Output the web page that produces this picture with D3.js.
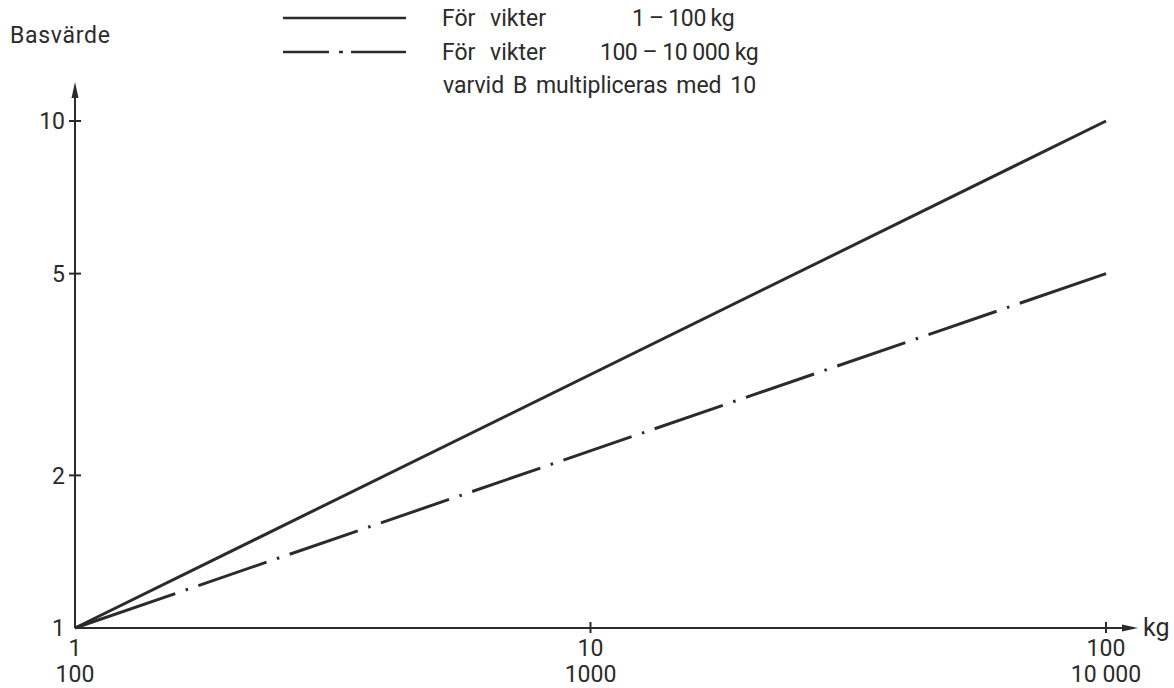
<!DOCTYPE html>
<html>
<head>
<meta charset="utf-8">
<script src="https://cdn.jsdelivr.net/npm/d3@7"></script>
<style>
  html, body { margin: 0; padding: 0; background: #fff; }
  svg text { font-family: Roboto, "DejaVu Sans", sans-serif; fill: #2b2b2b; }
</style>
</head>
<body>
<svg id="chart" width="1174" height="688"></svg>
<script>
// ---- data ----
const xDomain = [1, 100];
const yDomain = [1, 10];
const xTickValues = [10, 100];
const xLabelValues = [1, 10, 100];
const xLabelsTop = ["1", "10", "100"];
const xLabelsBottom = ["100", "1000", "10 000"];
const yTickValues = [2, 5, 10];
const yLabelValues = [1, 2, 5, 10];
const yLabels = ["1", "2", "5", "10"];
const seriesSolid = [{x: 1, y: 1}, {x: 100, y: 10}];
const seriesDashDot = [{x: 1, y: 1}, {x: 100, y: 5}];
const legendRow1 = ["För vikter", "1 – 100 kg"];
const legendRow2 = ["För vikter", "100 – 10 000 kg"];
const legendRow3 = "varvid B multipliceras med 10";
const yTitle = "Basvärde";
const xUnit = "kg";

// ---- layout ----
const svg = d3.select("#chart");
const x = d3.scaleLog().domain(xDomain).range([75, 1106]);
const y = d3.scaleLog().domain(yDomain).range([628, 121]);
const ink = "#2b2b2b";
const fs = 23;

// axes lines
const x0 = x(xDomain[0]), y0 = y(yDomain[0]);
svg.append("line").attr("x1", x0).attr("y1", y0).attr("x2", x0).attr("y2", 90)
  .attr("stroke", ink).attr("stroke-width", 2);
svg.append("line").attr("x1", x0).attr("y1", y0).attr("x2", 1128).attr("y2", y0)
  .attr("stroke", ink).attr("stroke-width", 2);
// arrowheads
svg.append("path").attr("d", `M${x0},82 L${x0-3.5},98 L${x0+3.5},98 Z`).attr("fill", ink);
svg.append("path").attr("d", `M1138,${y0} L1122,${y0-3.5} L1122,${y0+3.5} Z`).attr("fill", ink);

// y ticks
svg.selectAll(".ytick").data(yTickValues).enter().append("line")
  .attr("x1", x0 - 6).attr("x2", x0 + 6)
  .attr("y1", d => y(d)).attr("y2", d => y(d))
  .attr("stroke", ink).attr("stroke-width", 2);
svg.selectAll(".ylab").data(yLabelValues).enter().append("text")
  .attr("x", x0 - 10).attr("y", d => y(d)).attr("dy", "0.36em")
  .attr("text-anchor", "end").attr("font-size", fs)
  .text((d, i) => yLabels[i]);

// x ticks
svg.selectAll(".xtick").data(xTickValues).enter().append("line")
  .attr("x1", d => x(d)).attr("x2", d => x(d))
  .attr("y1", y0 - 6).attr("y2", y0 + 5)
  .attr("stroke", ink).attr("stroke-width", 2);
svg.selectAll(".xlab1").data(xLabelValues).enter().append("text")
  .attr("x", d => x(d)).attr("y", 656)
  .attr("text-anchor", "middle").attr("font-size", fs)
  .text((d, i) => xLabelsTop[i]);
svg.selectAll(".xlab2").data(xLabelValues).enter().append("text")
  .attr("x", d => x(d)).attr("y", 682)
  .attr("text-anchor", "middle").attr("font-size", fs)
  .text((d, i) => xLabelsBottom[i]);

svg.append("text").attr("x", 1143).attr("y", 636).attr("font-size", 25).text(xUnit);
svg.append("text").attr("x", 10).attr("y", 43).attr("font-size", fs)
  .attr("textLength", 100).attr("lengthAdjust", "spacing").text(yTitle);

// series lines
const line = d3.line().x(d => x(d.x)).y(d => y(d.y));
svg.append("path").datum(seriesSolid).attr("d", line)
  .attr("fill", "none").attr("stroke", ink).attr("stroke-width", 3);

// dash-dot pattern: long first dash, repeating gap-dot-gap-dash, long final dash
const dashParts = [106];
for (let i = 0; i < 9; i++) dashParts.push(11, 2.5, 11, 72);
dashParts.push(11, 2.5, 11, 400);
svg.append("path").datum(seriesDashDot).attr("d", line)
  .attr("fill", "none").attr("stroke", ink).attr("stroke-width", 3)
  .attr("stroke-dasharray", dashParts.join(","));

// legend
svg.append("line").attr("x1", 283).attr("x2", 406).attr("y1", 18).attr("y2", 18)
  .attr("stroke", ink).attr("stroke-width", 2.5);
svg.append("line").attr("x1", 283).attr("x2", 406).attr("y1", 52).attr("y2", 52)
  .attr("stroke", ink).attr("stroke-width", 2.5)
  .attr("stroke-dasharray", "46,10,4,8,200");

const lg = svg.append("g").attr("font-size", fs);
const legTexts = [
  {t: legendRow1[0], x: 442, y: 26, ws: 9, ls: 0},
  {t: legendRow1[1], x: 632, y: 26, ws: -1, ls: -0.3},
  {t: legendRow2[0], x: 442, y: 60, ws: 9, ls: 0},
  {t: legendRow2[1], x: 600, y: 60, ws: 0, ls: -0.5},
  {t: legendRow3, x: 443, y: 93, ws: 3, ls: 0}
];
lg.selectAll("text").data(legTexts).enter().append("text")
  .attr("x", d => d.x).attr("y", d => d.y)
  .style("word-spacing", d => d.ws + "px")
  .style("letter-spacing", d => d.ls + "px")
  .text(d => d.t);
</script>
</body>
</html>
